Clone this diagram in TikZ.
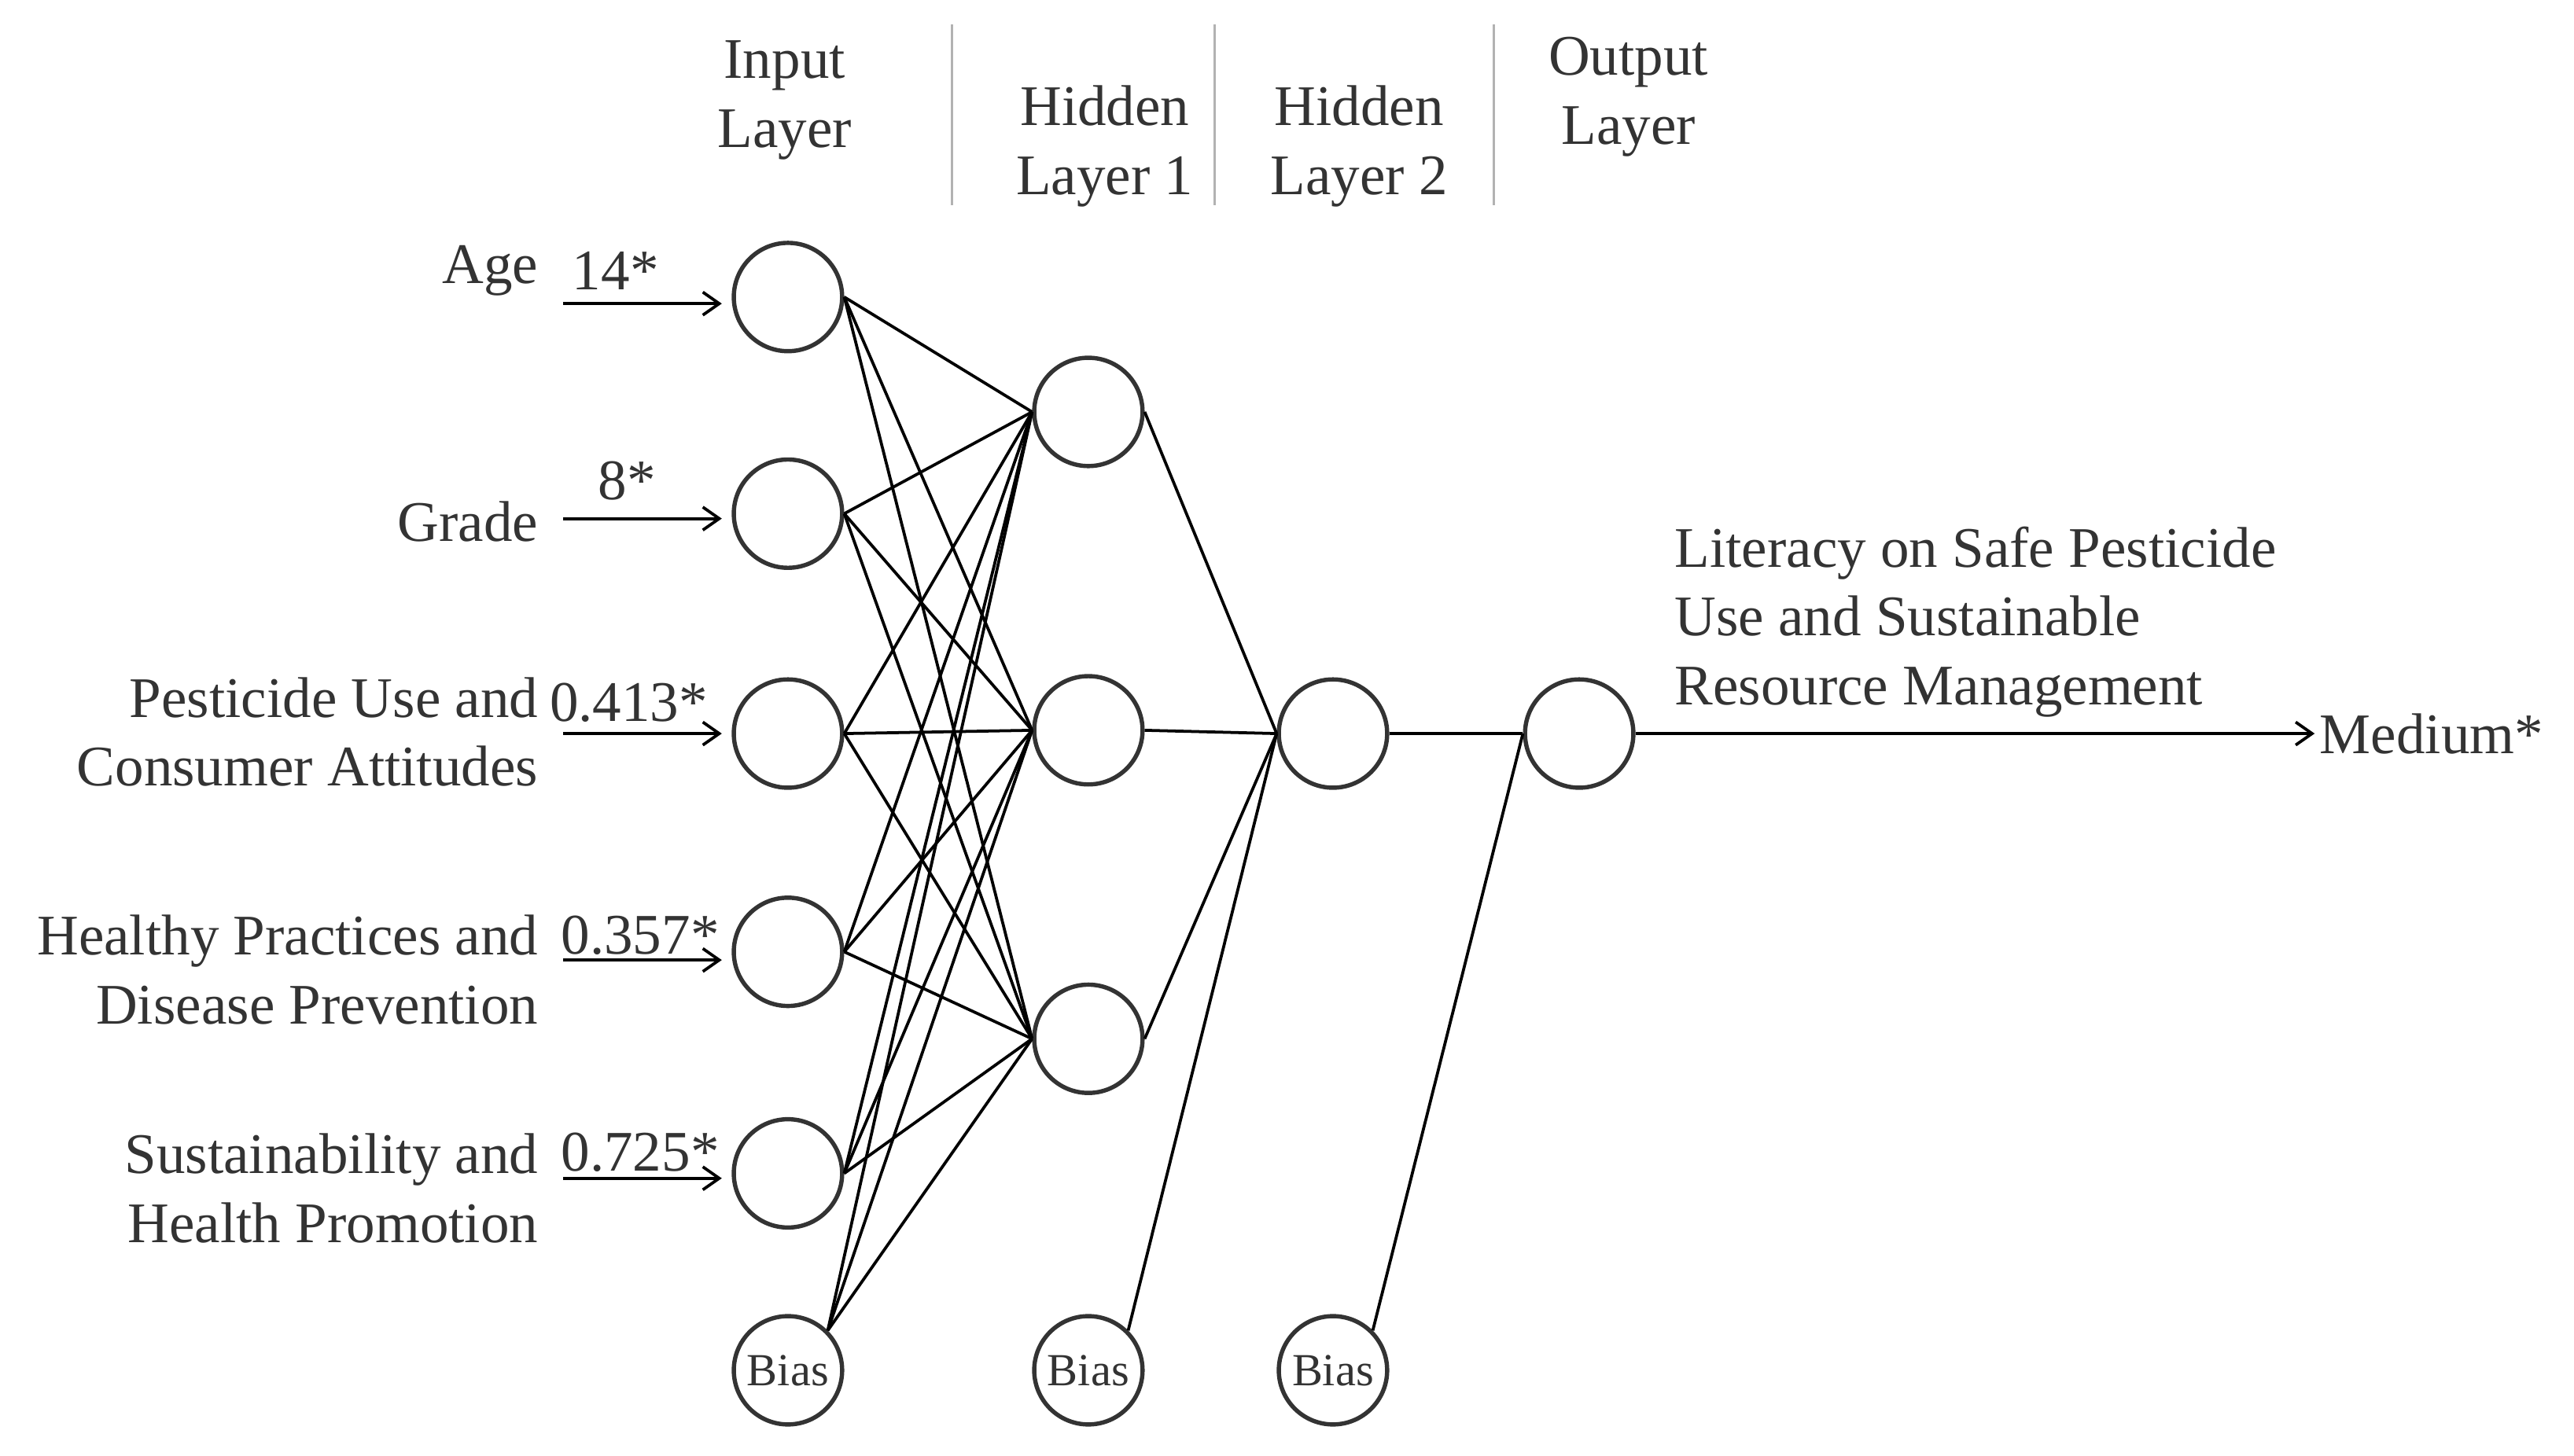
\documentclass[tikz,border=0pt]{standalone}
\usepackage{fontspec}
\setmainfont{Liberation Serif}
\usetikzlibrary{arrows.meta}
\definecolor{ink}{HTML}{333333}
\begin{document}
\begin{tikzpicture}[x=1pt,y=-1pt,
  neuron/.style={circle,draw=ink,line width=2.6pt,minimum size=66pt,inner sep=0pt,font=\fontsize{28}{30}\selectfont,text=ink},
  lbl/.style={text=ink,font=\fontsize{35}{42}\selectfont,inner sep=0pt},
  edge/.style={draw=black,line width=1.8pt},
  arr/.style={draw=black,line width=1.8pt,-{Straight Barb[length=10pt,width=14pt,line width=1.8pt]}},
  sep/.style={draw=gray!60,line width=1.2pt}]
\useasboundingbox (0,0) rectangle (1568,887);
% separators
\draw[sep] (580,15) -- (580,125);
\draw[sep] (740,15) -- (740,125);
\draw[sep] (910,15) -- (910,125);
% headers
\node[lbl,align=center] (hin) at (478,61) {Input\\Layer};
\node[lbl,align=center] (hh1) at (673,89) {Hidden\\Layer 1};
\node[lbl,align=center] (hh2) at (828,89) {Hidden\\Layer 2};
\node[lbl,align=center] (hout) at (992,59) {Output\\Layer};
% neurons
\node[neuron] (i1) at (480,181) {};
\node[neuron] (i2) at (480,313) {};
\node[neuron] (i3) at (480,447) {};
\node[neuron] (i4) at (480,580) {};
\node[neuron] (i5) at (480,715) {};
\node[neuron] (ib) at (480,835) {Bias};
\node[neuron] (h1) at (663,251) {};
\node[neuron] (h2) at (663,445) {};
\node[neuron] (h3) at (663,633) {};
\node[neuron] (hb) at (663,835) {Bias};
\node[neuron] (g1) at (812,447) {};
\node[neuron] (gb) at (812,835) {Bias};
\node[neuron] (o) at (962,447) {};
% edges
\foreach \i in {i1,i2,i3,i4,i5}{\foreach \h in {h1,h2,h3}{\draw[edge] (\i.east) -- (\h.west);}}
\foreach \h in {h1,h2,h3}{\draw[edge] (ib.north east) -- (\h.west);}
\foreach \h in {h1,h2,h3}{\draw[edge] (\h.east) -- (g1.west);}
\draw[edge] (hb.north east) -- (g1.west);
\draw[edge] (g1.east) -- (o.west);
\draw[edge] (gb.north east) -- (o.west);
% input arrows
\coordinate (a1) at (343,185); \draw[arr,shorten >=6pt] (a1) -- (i1.west |- a1);
\coordinate (a2) at (343,316); \draw[arr,shorten >=6pt] (a2) -- (i2.west |- a2);
\coordinate (a3) at (343,447); \draw[arr,shorten >=6pt] (a3) -- (i3.west |- a3);
\coordinate (a4) at (343,585); \draw[arr,shorten >=6pt] (a4) -- (i4.west |- a4);
\coordinate (a5) at (343,718); \draw[arr,shorten >=6pt] (a5) -- (i5.west |- a5);
% weights
\node[lbl] (w1) at (375,165) {14*};
\node[lbl] (w2) at (382,293) {8*};
\node[lbl] (w3) at (383,428) {0.413*};
\node[lbl] (w4) at (390,570) {0.357*};
\node[lbl] (w5) at (390,702) {0.725*};
% input labels
\node[lbl,anchor=east] (l1) at (328,165) {Age};
\node[lbl,anchor=east] (l2) at (328,318) {Grade};
\node[lbl,anchor=east,align=right] (l3) at (328,446) {Pesticide Use and\\Consumer Attitudes};
\node[lbl,anchor=east,align=right] (l4) at (328,591) {Healthy Practices and\\Disease Prevention};
\node[lbl,anchor=east,align=right] (l5) at (328,724) {Sustainability and\\Health Promotion};
% output
\coordinate (m) at (1410,447);
\draw[arr] (o.east) -- (m);
\node[lbl,anchor=west] (med) at (1413,447) {Medium*};
\node[lbl,anchor=west,align=left] (lit) at (1020,379) {Literacy on Safe Pesticide\\Use and Sustainable\\Resource Management};
\end{tikzpicture}
\end{document}
